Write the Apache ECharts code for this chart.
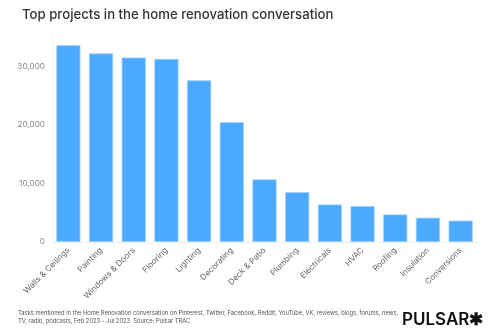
<!DOCTYPE html>
<html><head><meta charset="utf-8">
<script src="https://cdn.jsdelivr.net/npm/echarts@6/dist/echarts.min.js"></script>
<style>html,body{margin:0;padding:0;background:#fff}#c{width:500px;height:330px}</style>
</head><body><div id="c"></div>
<script>
const categories = ["Walls & Ceilings","Painting","Windows & Doors","Flooring","Lighting","Decorating","Deck & Patio","Plumbing","Electricals","HVAC","Roofing","Insulation","Conversions"];
const values = [33600,32200,31500,31250,27600,20450,10700,8500,6400,6130,4700,4150,3650];
const yTicks = [0,10000,20000,30000];
const titleText = "Top projects in the home renovation conversation";
const footText = "Tasks mentioned in the Home Renovation conversation on Pinterest, Twitter, Facebook, Reddit, YouTube, VK, reviews, blogs, forums, news,\nTV, radio, podcasts, Feb 2023 - Jul 2023. Source: Pulsar TRAC";
const brand = "P U L S A R \u2731";

const chart = echarts.init(document.getElementById('c'), null, {renderer:'canvas'});
chart.setOption({
  animation:false,
  title:{text:titleText,left:17,top:4,textStyle:{fontFamily:'Inter',fontSize:13.2,fontWeight:500,color:'#333'}},
  graphic:[
    {type:'text',left:18,top:309,style:{text:footText,fontFamily:'Inter',fontSize:5.8,lineHeight:8.5,fill:'#555'}},
    {type:'text',left:402,top:311,style:{text:'PULSAR\u2731',fontFamily:'Inter',fontSize:17,fontWeight:600,fill:'#111'}}
  ],
  grid:{left:52,right:23,top:37,bottom:88,containLabel:false},
  xAxis:{type:'category',data:categories,
    axisLine:{lineStyle:{color:'#eeeeee'}},
    axisTick:{alignWithLabel:true,length:4,lineStyle:{color:'#e6e6e6'}},
    axisLabel:{rotate:45,fontFamily:'Inter',fontSize:8.2,color:'#666',margin:7,interval:0}},
  yAxis:{type:'value',min:0,max:35000,interval:10000,
    axisLine:{show:true,lineStyle:{color:'#f2f2f2'}},
    splitLine:{show:false},axisTick:{show:false},
    axisLabel:{fontFamily:'Inter',fontSize:8.2,color:'#888',margin:7,
      formatter:function(v){return yTicks.indexOf(v)>=0?v.toLocaleString('en-US'):'';}}},
  series:[{type:'bar',data:values,barCategoryGap:'26%',
    itemStyle:{color:'#4ba9ff',borderColor:'#9fd0ff',borderWidth:0.8}}]
});
</script></body></html>
